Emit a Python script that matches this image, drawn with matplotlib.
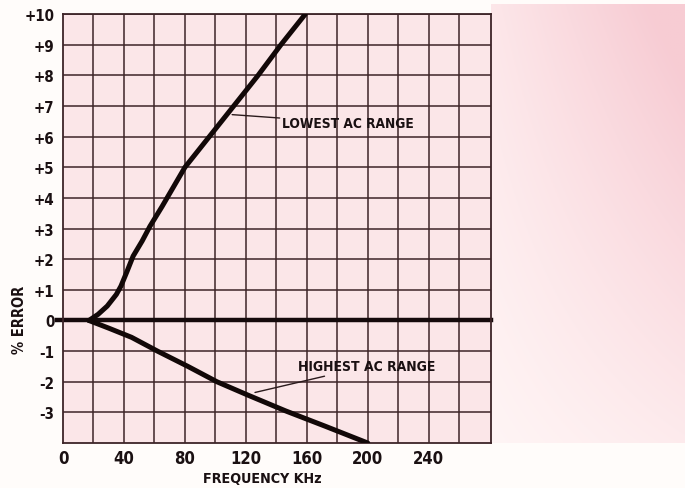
import matplotlib
matplotlib.use('Agg')
import matplotlib.pyplot as plt
import numpy as np

lowest_khz = [17, 23, 29, 35, 38, 42, 46, 52, 57, 65, 80, 96, 112, 128, 143, 159]
lowest_err = [0, 0.2, 0.47, 0.85, 1.12, 1.6, 2.1, 2.6, 3.07, 3.72, 5, 6, 7, 8, 9, 10]
highest_khz = [17, 30, 45, 62, 82, 101, 122, 146, 172, 200]
highest_err = [0, -0.25, -0.55, -1, -1.5, -2, -2.45, -2.95, -3.45, -4]

xticks = [0, 40, 80, 120, 160, 200, 240]
yticks = [-3, -2, -1, 0, 1, 2, 3, 4, 5, 6, 7, 8, 9, 10]
ytick_labels = ['-3', '-2', '-1', '0', '+1', '+2', '+3', '+4', '+5', '+6', '+7', '+8', '+9', '+10']

plt.rcParams['font.family'] = ['DejaVu Sans']
plt.rcParams['font.stretch'] = 'condensed'
plt.rcParams['font.weight'] = 'bold'

fig = plt.figure(figsize=(6.85, 4.89), dpi=100, facecolor='#fffcfa')

# faded pink paper to the right of the grid
bg = fig.add_axes([0.717, 0.092, 0.283, 0.898], zorder=-5)
gy, gx = np.mgrid[0:1:200j, 0:1:100j]
shade = np.clip(0.35 * gy + 0.55 * gx * gy + 0.25 * gx, 0, 1)
pink = np.array([0.97, 0.80, 0.83])
light = np.array([1.0, 0.96, 0.96])
img = light + (pink - light) * shade[..., None]
bg.imshow(img, aspect='auto', origin='lower', extent=[0, 1, 0, 1])
bg.axis('off')

ax = fig.add_axes([0.092, 0.092, 0.625, 0.877])
ax.set_facecolor('#fbe6e8')
ax.set_xlim(0, 281)
ax.set_ylim(-4, 10)

grid_col = '#3d2428'
for gx_ in np.arange(20, 270, 20):
    ax.axvline(gx_, color=grid_col, lw=1.1, zorder=1)
for gy_ in yticks:
    if gy_ != 0:
        ax.axhline(gy_, color=grid_col, lw=1.1, zorder=1)
ax.plot([-4, 281], [0, 0], color='#150a0c', lw=3.2, zorder=2, clip_on=False)

for s in ax.spines.values():
    s.set_color(grid_col)
    s.set_linewidth(1.3)

ax.plot(lowest_khz, lowest_err, color='#120808', lw=3.6, zorder=3,
        solid_capstyle='round', solid_joinstyle='round')
ax.plot(highest_khz, highest_err, color='#120808', lw=3.6, zorder=3,
        solid_capstyle='round', solid_joinstyle='round')

ax.set_xticks(xticks)
ax.set_yticks(yticks)
ax.set_yticklabels(ytick_labels)
ax.tick_params(length=0, colors='#1a1012')
ax.tick_params(axis='x', labelsize=12, pad=4)
ax.tick_params(axis='y', labelsize=10.8, pad=6)

ax.annotate('LOWEST AC RANGE', xy=(111, 6.72), xytext=(144, 6.45),
            fontsize=9.8, va='center', ha='left', color='#1a1012',
            arrowprops=dict(arrowstyle='-', color='#2a1a1c', lw=1.0,
                            shrinkA=0, shrinkB=0))
ax.annotate('HIGHEST AC RANGE', xy=(126, -2.35), xytext=(154, -1.5),
            fontsize=10, va='center', ha='left', color='#1a1012',
            arrowprops=dict(arrowstyle='-', color='#2a1a1c', lw=1.0,
                            shrinkA=0, shrinkB=0))

ax.set_xlabel('FREQUENCY KHz', fontsize=10.3, fontweight='bold', color='#1a1012')
ax.xaxis.set_label_coords(0.465, -0.066)
ax.set_ylabel('% ERROR', fontsize=10.5, fontweight='bold', color='#1a1012')
ax.yaxis.set_label_coords(-0.085, 0.29)

fig.savefig('out.png', dpi=100, facecolor=fig.get_facecolor())
